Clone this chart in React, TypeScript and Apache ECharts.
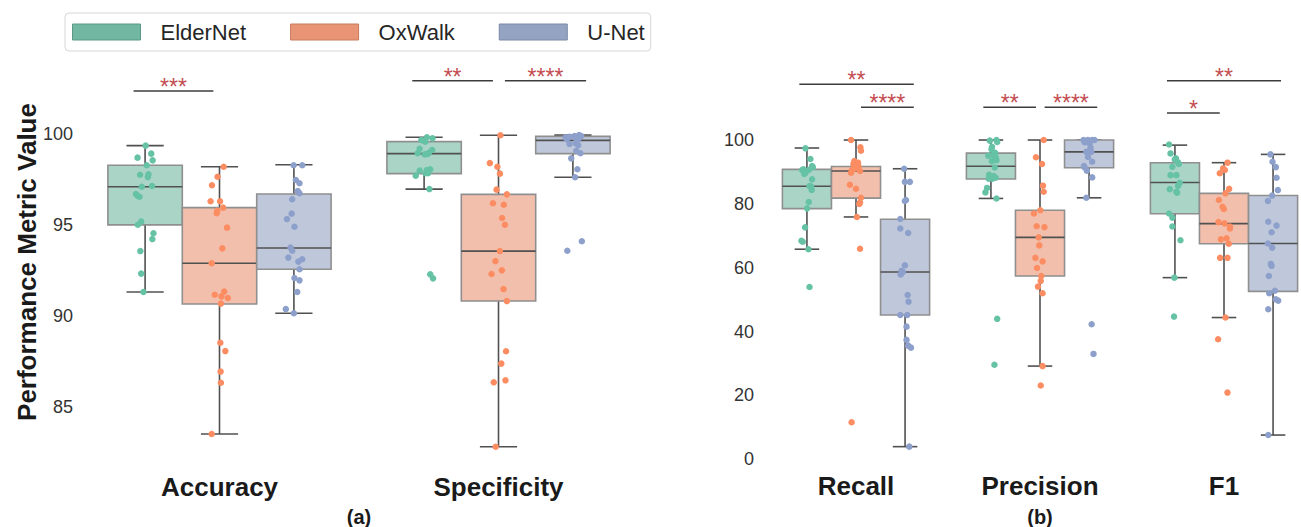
import React, { useEffect, useRef } from "react";
import * as echarts from "echarts";

const FONT = "'Liberation Sans', Arial, Helvetica, sans-serif";

const models = ["ElderNet", "OxWalk", "U-Net"];
const panelACategories = ["Accuracy", "Specificity"];
const panelBCategories = ["Recall", "Precision", "F1"];
const panelALabel = "(a)";
const panelBLabel = "(b)";
const yAxisTitle = "Performance Metric Value";

// point colours (stripplot), legend patch colours, box fill colours
const pointColors = ["#66c2a5", "#fc8d62", "#8da0cb"];
const patchColors = ["#71b7a1", "#e99575", "#95a3c3"];
const patchEdges = ["#5b9986", "#c47c61", "#7b89a6"];
const boxFills = ["#aad4c6", "#f2bfac", "#bfc8db"];

// box statistics: [whisker low, q1, median, q3, whisker high]
const accuracyBoxes = [
  [91.31, 95.0, 97.1, 98.28, 99.36],
  [83.5, 90.65, 92.89, 95.95, 98.2],
  [90.14, 92.56, 93.73, 96.7, 98.31],
];
const specificityBoxes = [
  [96.97, 97.82, 98.92, 99.58, 99.82],
  [82.8, 90.81, 93.56, 96.68, 99.93],
  [97.62, 98.92, 99.65, 99.87, 99.94],
];
const recallBoxes = [
  [65.8, 78.5, 85.5, 90.8, 97.5],
  [75.9, 81.8, 90.3, 91.7, 100],
  [3.96, 45.2, 58.66, 75.2, 91.0],
];
const precisionBoxes = [
  [81.7, 87.8, 91.8, 95.9, 100],
  [29.2, 57.4, 69.5, 78.0, 100],
  [81.9, 91.3, 96.3, 100, 100],
];
const f1Boxes = [
  [56.9, 76.9, 86.7, 92.9, 98.4],
  [44.4, 67.5, 73.8, 83.3, 92.9],
  [7.6, 52.6, 67.6, 82.6, 95.5],
];

// individual subjects: [value, horizontal jitter in category units]
const accuracyElderNet = [[99.36,0.002],[98.7,-0.027],[98.92,0.022],[98.55,0.027],[98.28,0.006],[97.76,-0.018],[97.78,0.012],[97.63,0.01],[97.1,-0.012],[97.14,0.025],[96.7,-0.033],[96.59,-0.026],[96.55,-0.02],[95.18,-0.014],[95.01,-0.026],[94.54,0.03],[94.22,0.026],[93.56,-0.017],[92.32,-0.014],[91.31,-0.006]];
const accuracyOxWalk = [[98.2,0.015],[97.65,-0.007],[97.18,-0.027],[96.3,-0.032],[96.3,0.002],[95.95,0.013],[95.78,-0.008],[95.64,-0.01],[94.85,0.027],[93.71,0.01],[92.89,-0.028],[91.16,-0.017],[91.33,0.017],[91.07,0.007],[90.98,0.03],[90.67,0.005],[88.52,0.003],[88.06,0.021],[86.93,0.004],[86.32,0.005],[83.5,-0.028]];
const accuracyUNet = [[98.28,-0.001],[98.28,0.03],[97.47,0.007],[97.29,0.02],[96.86,0.014],[96.74,0.02],[96.41,-0.006],[95.62,-0.008],[95.32,-0.025],[94.9,0.002],[93.75,-0.012],[93.58,-0.006],[93.2,-0.02],[92.98,0.016],[93.11,0.03],[92.56,0.02],[92.08,0.002],[91.95,0.02],[91.31,0.012],[90.37,-0.029],[90.14,0.0]];
const specificityElderNet = [[99.67,-0.01],[99.82,0.01],[99.76,0.03],[99.58,0.004],[99.19,-0.016],[99.12,0.029],[98.97,0.017],[98.88,0.002],[98.94,-0.023],[97.99,-0.016],[98.02,0.01],[98.06,0.022],[97.84,0.005],[97.71,-0.03],[96.97,0.019],[92.28,0.022],[92.06,0.032],[99.63,-0.002],[98.9,0.013],[97.84,0.014]];
const specificityOxWalk = [[99.93,0.007],[98.4,-0.031],[98.2,-0.004],[97.82,0.005],[96.94,-0.007],[96.68,0.03],[96.19,-0.02],[96.11,0.019],[95.38,0.013],[95.01,0.023],[93.56,0.005],[93.01,-0.011],[92.5,0.012],[92.3,-0.025],[91.47,0.018],[90.81,0.03],[88.05,0.027],[87.37,0.01],[86.34,-0.017],[86.45,0.025],[82.8,-0.01]];
const specificityUNet = [[99.82,-0.026],[99.85,-0.012],[99.89,0.006],[99.94,0.022],[99.89,0.03],[99.71,-0.022],[99.74,0.012],[99.82,0.024],[99.67,0.018],[99.45,-0.012],[99.49,0.01],[99.38,0.019],[99.08,0.012],[98.94,0.027],[98.66,-0.006],[98.06,0.016],[97.62,0.008],[94.1,0.032],[93.58,-0.02]];
const recallElderNet = [[97.4,-0.008],[94.05,0.019],[91.86,0.028],[90.8,-0.019],[90.6,0.01],[89.76,-0.008],[89.35,-0.014],[87.69,0.028],[85.6,0.014],[84.34,0.026],[80.58,0.01],[78.6,0.001],[72.65,-0.01],[68.46,-0.03],[68.15,-0.023],[65.77,0.008],[53.96,0.014],[85.4,0.023],[90.6,-0.026],[91.5,0.032]];
const recallOxWalk = [[100,-0.027],[97.7,0.024],[96.65,0.027],[93.4,-0.009],[92.5,-0.014],[91.86,0.0],[91.65,0.014],[90.6,-0.022],[90.3,0.022],[89.76,-0.027],[86.0,-0.033],[84.75,0.0],[81.9,0.027],[80.4,0.022],[79.95,0.018],[75.9,0.005],[65.96,0.022],[11.6,-0.024],[91.1,-0.004],[92.9,0.011]];
const recallUNet = [[91.0,-0.005],[86.9,-0.001],[86.9,0.026],[81.2,0.005],[80.9,-0.001],[75.26,-0.026],[72.3,-0.026],[70.87,0.017],[60.75,-0.001],[59.07,-0.019],[57.9,-0.024],[58.66,-0.012],[51.46,0.014],[49.37,0.019],[45.2,-0.026],[45.2,0.012],[41.55,0.008],[37.4,0.008],[35.6,0.017],[34.97,0.032],[3.96,0.023]];
const precisionElderNet = [[99.8,-0.006],[100,0.03],[99.4,0.034],[97.9,0.006],[97.1,0.003],[96.0,0.023],[95.3,0.012],[95.1,-0.014],[94.6,0.026],[93.7,0.03],[93.4,0.005],[91.4,0.021],[89.1,-0.01],[88.7,0.015],[88.2,0.026],[87.9,-0.012],[87.9,0.008],[85.0,-0.021],[83.6,-0.03],[81.7,0.03],[44.0,0.034],[29.6,0.019]];
const precisionOxWalk = [[100,0.02],[94.6,-0.022],[92.5,0.011],[85.7,0.016],[83.8,0.02],[78.0,0.002],[77.0,-0.033],[73.0,-0.018],[72.7,0.024],[69.5,-0.007],[67.0,-0.004],[63.1,-0.025],[62.0,0.014],[59.9,-0.016],[57.4,0.007],[55.9,0.004],[54.1,-0.011],[52.0,0.014],[29.2,0.014],[23.1,0.004]];
const precisionUNet = [[100,-0.03],[100,-0.006],[100,0.017],[100,0.03],[99.3,-0.024],[98.96,0.003],[96.3,-0.015],[96.3,0.012],[91.86,-0.028],[93.2,0.017],[90.4,-0.012],[91.4,-0.024],[88.3,0.017],[81.9,-0.015],[42.3,0.014],[33.0,0.024],[99.7,0.003],[99.4,-0.019],[97.6,0.008],[94.7,-0.006]];
const f1ElderNet = [[98.6,-0.032],[95.8,-0.024],[94.3,0.005],[93.0,0.017],[91.6,-0.014],[89.0,0.008],[89.0,-0.024],[86.6,0.026],[85.6,0.017],[84.6,-0.028],[83.8,0.008],[83.5,0.012],[77.0,-0.032],[75.7,-0.014],[72.9,-0.014],[68.6,0.03],[56.9,-0.003],[44.7,-0.005],[93.9,-0.001],[92.5,0.021]];
const f1OxWalk = [[92.9,0.019],[91.1,-0.005],[90.6,0.005],[89.6,-0.023],[84.7,0.028],[83.3,0.008],[81.2,-0.028],[79.1,-0.008],[78.4,-0.001],[74.3,-0.03],[73.9,0.003],[72.9,0.032],[72.3,0.032],[69.2,0.014],[68.9,-0.017],[67.5,0.026],[63.1,-0.021],[63.1,0.019],[44.4,0.008],[37.6,-0.032],[20.9,0.019]];
const f1UNet = [[95.5,-0.014],[93.2,-0.003],[91.5,0.015],[88.2,0.019],[84.3,0.026],[82.6,-0.005],[80.9,-0.028],[74.4,-0.026],[73.2,0.019],[71.1,-0.008],[67.6,-0.028],[66.3,-0.005],[61.2,-0.012],[60.6,-0.008],[57.4,-0.023],[52.8,0.01],[52.0,-0.021],[50.1,0.015],[49.7,0.028],[47.0,-0.026],[7.6,-0.026]];

// significance brackets: [x start, x end, height] in category units / metric value
const panelABrackets = [[-0.308, -0.022, 102.37], [0.691, 0.98, 102.93], [1.023, 1.314, 102.93]];
const panelABracketLabels = ["***", "**", "****"];
const panelBBrackets = [[-0.308, 0.314, 117.5], [0.027, 0.314, 110.3], [0.692, 0.978, 110.3], [1.025, 1.311, 110.3], [1.69, 2.31, 118.6], [1.69, 1.977, 108.5]];
const panelBBracketLabels = ["**", "****", "**", "****", "**", "*"];

const panelABoxes = [accuracyBoxes, specificityBoxes];
const panelBBoxes = [recallBoxes, precisionBoxes, f1Boxes];
const panelAPoints = [
  [accuracyElderNet, accuracyOxWalk, accuracyUNet],
  [specificityElderNet, specificityOxWalk, specificityUNet],
];
const panelBPoints = [
  [recallElderNet, recallOxWalk, recallUNet],
  [precisionElderNet, precisionOxWalk, precisionUNet],
  [f1ElderNet, f1OxWalk, f1UNet],
];

const GROUP_W = 0.8;
const HUE_W = GROUP_W / models.length;
const hueOffset = (m: number) => (m - (models.length - 1) / 2) * HUE_W;

function makeBoxRender(fill: string) {
  return (params: any, api: any) => {
    const x = api.value(0);
    const lo = api.value(1);
    const q1 = api.value(2);
    const med = api.value(3);
    const q3 = api.value(4);
    const hi = api.value(5);
    const half = HUE_W / 2;
    const capHalf = half / 2;
    const tl = api.coord([x - half, q3]);
    const br = api.coord([x + half, q1]);
    const pm = api.coord([x, med]);
    const pLo = api.coord([x, lo]);
    const pHi = api.coord([x, hi]);
    const cl = api.coord([x - capHalf, lo])[0];
    const cr = api.coord([x + capHalf, lo])[0];
    const ls = { stroke: "#505050", lineWidth: 1.6 };
    return {
      type: "group",
      children: [
        { type: "line", shape: { x1: pHi[0], y1: pHi[1], x2: pHi[0], y2: tl[1] }, style: ls },
        { type: "line", shape: { x1: pLo[0], y1: br[1], x2: pLo[0], y2: pLo[1] }, style: ls },
        { type: "line", shape: { x1: cl, y1: pHi[1], x2: cr, y2: pHi[1] }, style: ls },
        { type: "line", shape: { x1: cl, y1: pLo[1], x2: cr, y2: pLo[1] }, style: ls },
        {
          type: "rect",
          shape: { x: tl[0], y: tl[1], width: br[0] - tl[0], height: br[1] - tl[1] },
          style: { fill, stroke: "#8f8f8f", lineWidth: 1.6 },
        },
        { type: "line", shape: { x1: tl[0], y1: pm[1], x2: br[0], y2: pm[1] }, style: ls },
      ],
    };
  };
}

function makeBracketRender(labels: string[]) {
  return (params: any, api: any) => {
    const a = api.coord([api.value(0), api.value(2)]);
    const b = api.coord([api.value(1), api.value(2)]);
    return {
      type: "group",
      children: [
        { type: "line", shape: { x1: a[0], y1: a[1], x2: b[0], y2: b[1] }, style: { stroke: "#3c3c3c", lineWidth: 1.5 } },
        {
          type: "text",
          x: (a[0] + b[0]) / 2,
          y: a[1] - 4,
          style: {
            text: labels[params.dataIndex],
            fill: "#c44e52",
            font: `23px ${FONT}`,
            textAlign: "center",
            textVerticalAlign: "middle",
          },
        },
      ],
    };
  };
}

function panelSeries(boxes: number[][][], points: number[][][][], brackets: number[][], labels: string[], xAxisIndex: number, yAxisIndex: number) {
  const out: any[] = [];
  models.forEach((name, m) => {
    out.push({
      type: "custom",
      name,
      coordinateSystem: "cartesian2d",
      xAxisIndex,
      yAxisIndex,
      itemStyle: { color: patchColors[m] },
      renderItem: makeBoxRender(boxFills[m]),
      encode: { x: 0, y: [1, 2, 3, 4, 5] },
      data: boxes.map((catBoxes, c) => [c + hueOffset(m), ...catBoxes[m]]),
      z: 2,
      silent: true,
    });
  });
  models.forEach((name, m) => {
    const data: number[][] = [];
    points.forEach((catPts, c) => {
      catPts[m].forEach(([v, j]) => data.push([c + hueOffset(m) + j, v]));
    });
    out.push({
      type: "scatter",
      name,
      xAxisIndex,
      yAxisIndex,
      symbolSize: 6.5,
      itemStyle: { color: pointColors[m], opacity: 1 },
      data,
      z: 3,
      silent: true,
    });
  });
  out.push({
    type: "custom",
    coordinateSystem: "cartesian2d",
    xAxisIndex,
    yAxisIndex,
    renderItem: makeBracketRender(labels),
    encode: { x: [0, 1], y: 2 },
    data: brackets,
    z: 4,
    silent: true,
  });
  return out;
}

const tickLabel = { fontSize: 18, color: "#333333", fontFamily: FONT };
const catLabel = { fontSize: 26, fontWeight: "bold", color: "#1a1a1a", fontFamily: FONT };

export default function App() {
  const ref = useRef<HTMLDivElement>(null);
  useEffect(() => {
    if (!ref.current) return;
    const chart = echarts.init(ref.current, undefined, { renderer: "svg" });
    const option: any = {
      animation: false,
      backgroundColor: "#ffffff",
      legend: {
        left: 65,
        top: 13,
        icon: "rect",
        itemWidth: 68,
        itemHeight: 16,
        itemGap: 44,
        padding: [8, 6, 8, 7],
        borderColor: "#d6d6d6",
        borderWidth: 1,
        borderRadius: 4,
        selectedMode: false,
        textStyle: { fontSize: 22, color: "#262626", fontFamily: FONT, padding: [0, 0, 0, 15], lineHeight: 22 },
        data: models.map((name, m) => ({
          name,
          itemStyle: { color: patchColors[m], borderColor: patchEdges[m], borderWidth: 1 },
        })),
      },
      grid: [
        { left: 80, top: 43.1, width: 558, height: 454.5 },
        { left: 764, top: 60.2, width: 552, height: 399.1 },
      ],
      xAxis: [
        {
          type: "category",
          gridIndex: 0,
          data: panelACategories,
          offset: -24,
          axisLine: { show: false },
          axisTick: { show: false },
          axisLabel: { ...catLabel, margin: 0 },
        },
        { type: "value", gridIndex: 0, min: -0.5, max: 1.5, show: false },
        {
          type: "category",
          gridIndex: 1,
          data: panelBCategories,
          axisLine: { show: false },
          axisTick: { show: false },
          axisLabel: { ...catLabel, margin: 14 },
        },
        { type: "value", gridIndex: 1, min: -0.5, max: 2.5, show: false },
      ],
      yAxis: [
        {
          type: "value",
          gridIndex: 0,
          min: 80,
          max: 105,
          interval: 5,
          axisLine: { show: false },
          axisTick: { show: false },
          splitLine: { show: false },
          axisLabel: { ...tickLabel, margin: 7, formatter: (v: number) => (v >= 85 && v <= 100 ? String(v) : "") },
        },
        {
          type: "value",
          gridIndex: 1,
          min: 0,
          max: 125,
          interval: 20,
          axisLine: { show: false },
          axisTick: { show: false },
          splitLine: { show: false },
          axisLabel: { ...tickLabel, margin: 10, formatter: (v: number) => (v <= 100 ? String(v) : "") },
        },
      ],
      graphic: [
        {
          type: "text",
          x: 27,
          y: 262,
          rotation: Math.PI / 2,
          style: { text: yAxisTitle, font: `bold 26px ${FONT}`, fill: "#1a1a1a", textAlign: "center", textVerticalAlign: "middle" },
        },
        {
          type: "text",
          x: 359,
          y: 517,
          style: { text: panelALabel, font: `bold 20px ${FONT}`, fill: "#1a1a1a", textAlign: "center", textVerticalAlign: "middle" },
        },
        {
          type: "text",
          x: 1040,
          y: 517,
          style: { text: panelBLabel, font: `bold 20px ${FONT}`, fill: "#1a1a1a", textAlign: "center", textVerticalAlign: "middle" },
        },
      ],
      series: [
        ...panelSeries(panelABoxes, panelAPoints as any, panelABrackets, panelABracketLabels, 1, 0),
        ...panelSeries(panelBBoxes, panelBPoints as any, panelBBrackets, panelBBracketLabels, 3, 1),
      ],
    };
    chart.setOption(option);
    return () => chart.dispose();
  }, []);
  return (
    <div style={{ position: "fixed", left: 0, top: 0, width: 1301, height: 527, overflow: "hidden", background: "#fff" }}>
      <div ref={ref} style={{ position: "absolute", left: 0, top: 0, width: 1330, height: 527 }} />
    </div>
  );
}
